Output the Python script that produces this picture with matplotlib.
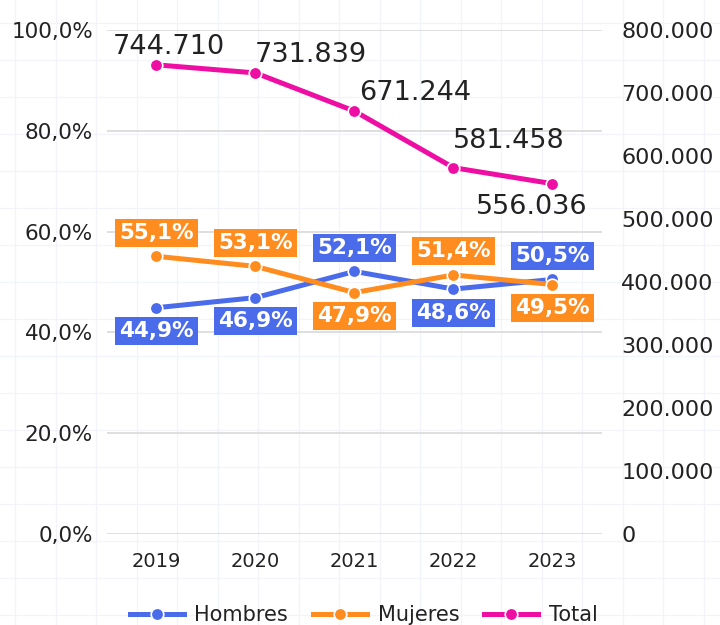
import matplotlib
matplotlib.use("Agg")
import matplotlib.pyplot as plt
import numpy as np

years = ["2019", "2020", "2021", "2022", "2023"]
hombres = [44.9, 46.9, 52.1, 48.6, 50.5]
mujeres = [55.1, 53.1, 47.9, 51.4, 49.5]
total = [744710, 731839, 671244, 581458, 556036]

# label placement (offsets in points), kept apart from the data
h_off = [-17, -17, 17, -17, 17]
m_off = [17, 17, -17, 17, -17]
t_off = [(9, 13), (40, 13), (44, 13), (40, 19), (-15, -17)]

blue = "#4A6BEA"
orange = "#FF8C1F"
pink = "#EE0EA3"
txt = "#222222"

plt.rcParams["font.family"] = ["DejaVu Sans"]

fig = plt.figure(figsize=(7.2, 6.25), dpi=100)

# faint paper grid in the background
bg = fig.add_axes([0, 0, 1, 1], zorder=-10)
bg.set_xlim(0, 720)
bg.set_ylim(625, 0)
bg.set_xticks(np.arange(15, 720, 40.5))
bg.set_yticks(np.arange(23, 625, 37))
bg.grid(True, color="#F3F3FA", lw=0.9)
bg.tick_params(length=0, labelleft=False, labelbottom=False)
for s in bg.spines.values():
    s.set_visible(False)

ax = fig.add_axes([0.1486, 0.1456, 0.6875, 0.8064])
ax.patch.set_alpha(0)
x = np.arange(len(years))

ax.plot(x, hombres, color=blue, lw=3.6, marker="o", ms=9, mec="white", mew=1.2, label="Hombres", zorder=3)
ax.plot(x, mujeres, color=orange, lw=3.6, marker="o", ms=9, mec="white", mew=1.2, label="Mujeres", zorder=3)

ax.set_xlim(-0.5, 4.5)
ax.set_ylim(0, 100)
ax.set_yticks([0, 20, 40, 60, 80, 100])
ax.set_yticklabels([f"{v:.1f}%".replace(".", ",") for v in [0, 20, 40, 60, 80, 100]])
ax.set_xticks(x)
ax.set_xticklabels(years)
ax.grid(axis="y", color="#D9D9D9", lw=1.2)
ax.set_axisbelow(True)
ax.tick_params(axis="y", length=0, pad=10, labelsize=15.5, labelcolor=txt)
ax.tick_params(axis="x", length=0, pad=13, labelsize=14, labelcolor=txt)
for s in ax.spines.values():
    s.set_visible(False)

for xi, v, o in zip(x, hombres, h_off):
    ax.annotate(f"{v:.1f}%".replace(".", ","), (xi, v), xytext=(0, o), textcoords="offset points",
                ha="center", va="center", color="white", fontsize=15.5, fontweight="bold",
                bbox=dict(boxstyle="square,pad=0.18", fc=blue, ec="none"), zorder=5)
for xi, v, o in zip(x, mujeres, m_off):
    ax.annotate(f"{v:.1f}%".replace(".", ","), (xi, v), xytext=(0, o), textcoords="offset points",
                ha="center", va="center", color="white", fontsize=15.5, fontweight="bold",
                bbox=dict(boxstyle="square,pad=0.18", fc=orange, ec="none"), zorder=5)

ax2 = ax.twinx()
ax2.plot(x, total, color=pink, lw=3.6, marker="o", ms=9, mec="white", mew=1.2, label="Total", zorder=3)
ax2.set_ylim(0, 800000)
ax2.set_yticks(np.arange(0, 800001, 100000))
ax2.set_yticklabels([f"{int(v):,}".replace(",", ".") for v in np.arange(0, 800001, 100000)])
ax2.tick_params(axis="y", length=0, pad=14, labelsize=16, labelcolor=txt)
for s in ax2.spines.values():
    s.set_visible(False)

for xi, v, (dx, dy) in zip(x, total, t_off):
    ax2.annotate(f"{v:,}".replace(",", "."), (xi, v), xytext=(dx, dy), textcoords="offset points",
                 ha="center", va="center", color=txt, fontsize=19.5)

h1, l1 = ax.get_legend_handles_labels()
h2, l2 = ax2.get_legend_handles_labels()
fig.legend(h1 + h2, l1 + l2, loc="upper center", bbox_to_anchor=(0.505, 0.048), ncol=3,
           frameon=False, fontsize=15, handlelength=2.6, columnspacing=1.2, handletextpad=0.5,
           borderpad=0, labelcolor=txt)

fig.savefig("out.png", dpi=100)
